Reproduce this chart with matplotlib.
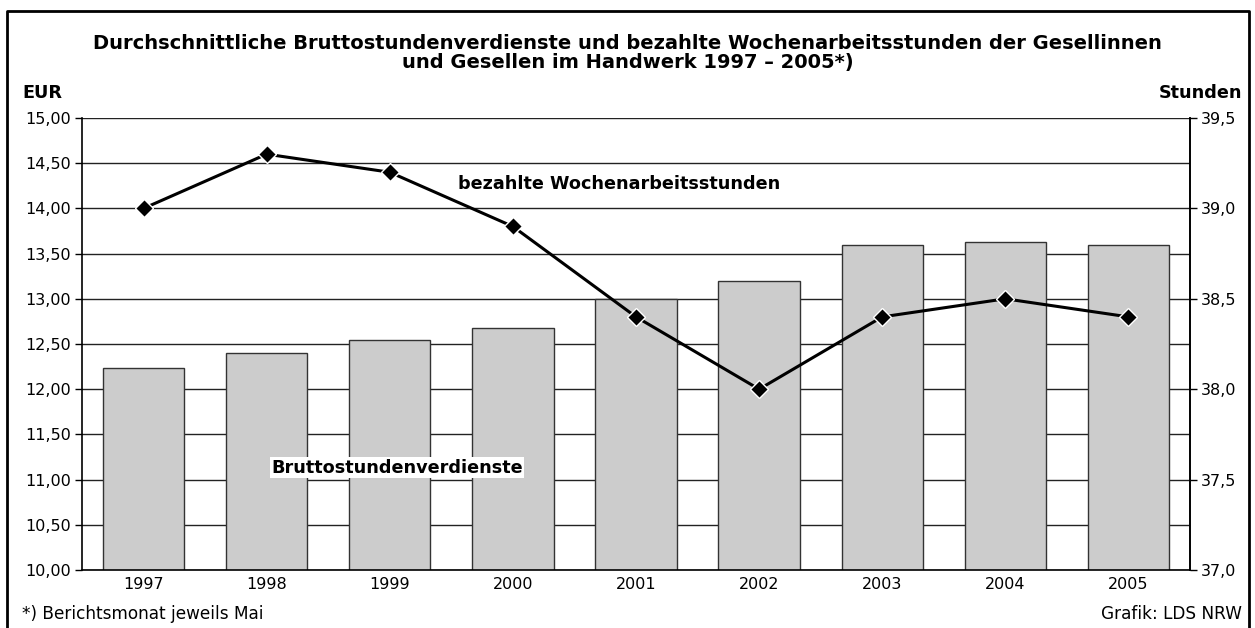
import matplotlib.pyplot as plt
from matplotlib.lines import Line2D
from matplotlib.ticker import FuncFormatter

plt.rcParams["font.family"] = ["DejaVu Sans"]

years = ["1997", "1998", "1999", "2000", "2001", "2002", "2003", "2004", "2005"]
verdienst = [12.24, 12.40, 12.54, 12.68, 13.00, 13.20, 13.59, 13.63, 13.59]
stunden = [39.0, 39.3, 39.2, 38.9, 38.4, 38.0, 38.4, 38.5, 38.4]

INK = "#000000"
BAR = "#cccccc"
FS = 11.5      # tick labels
FSB = 12.7     # bold captions
FSN = 12.2     # footer

fig = plt.figure(figsize=(12.55, 6.28), dpi=100)
ax = fig.add_axes([82 / 1255, 1 - 570 / 628, (1190 - 82) / 1255, (570 - 118) / 628])

x = list(range(len(years)))
ax.bar(x, verdienst, width=0.66, color=BAR, edgecolor="#333333", lw=1.0, zorder=2)
ax.set_xlim(-0.5, len(years) - 0.5)
ax.set_ylim(10, 15)
ax.set_yticks([10 + 0.5 * i for i in range(11)])
ax.yaxis.set_major_formatter(FuncFormatter(lambda v, p: f"{v:.2f}".replace(".", ",")))
ax.grid(axis="y", color="#222222", lw=1.0)
ax.set_axisbelow(True)
ax.set_xticks(x)
ax.set_xticklabels(years)
ax.tick_params(axis="x", length=0, pad=5, labelsize=FS)
ax.tick_params(axis="y", length=5, width=1.0, pad=3, labelsize=FS, direction="out")
for s in ["left", "right", "bottom"]:
    ax.spines[s].set_linewidth(1.2)
ax.spines["top"].set_visible(False)

ax2 = ax.twinx()
ax2.plot(x, stunden, color=INK, lw=2.2, marker="D", ms=9, mfc=INK, mec="white",
         mew=1.0, zorder=5)
ax2.set_ylim(37.0, 39.5)
ax2.set_yticks([37.0 + 0.5 * i for i in range(6)])
ax2.yaxis.set_major_formatter(FuncFormatter(lambda v, p: f"{v:.1f}".replace(".", ",")))
ax2.tick_params(axis="y", length=5, width=1.0, pad=3, labelsize=FS, direction="out")
for s in ["top", "left", "bottom"]:
    ax2.spines[s].set_visible(False)
ax2.spines["right"].set_linewidth(1.2)

# series labels
ax2.text(3.86, 39.135, "bezahlte Wochenarbeitsstunden", fontsize=FSB, weight="bold",
         ha="center", va="center")
ax.text(2.06, 11.13, "Bruttostundenverdienste", fontsize=FSB, weight="bold",
        ha="center", va="center", zorder=6,
        bbox=dict(fc="white", ec="none", pad=1.0))

# title and axis captions
fig.text(0.5, 1 - 53 / 628,
         "Durchschnittliche Bruttostundenverdienste und bezahlte Wochenarbeitsstunden der Gesellinnen\n"
         "und Gesellen im Handwerk 1997 \u2013 2005*)",
         fontsize=14, weight="bold", ha="center", va="center", linespacing=1.05)
fig.text(22 / 1255, 1 - 93 / 628, "EUR", fontsize=FSB, weight="bold", ha="left", va="center")
fig.text(1242 / 1255, 1 - 93 / 628, "Stunden", fontsize=FSB, weight="bold", ha="right", va="center")
fig.text(22 / 1255, 1 - 614 / 628, "*) Berichtsmonat jeweils Mai", fontsize=FSN, ha="left", va="center")
fig.text(1242 / 1255, 1 - 614 / 628, "Grafik: LDS NRW", fontsize=FSN, ha="right", va="center")

# outer frame (bottom edge cut off)
fx0, fx1, fy = 7 / 1255, 1249 / 1255, 1 - 11 / 628
fig.add_artist(Line2D([fx0, fx0, fx1, fx1], [0, fy, fy, 0], color=INK, lw=2.0,
                      transform=fig.transFigure))

fig.savefig("out.png", dpi=100)
